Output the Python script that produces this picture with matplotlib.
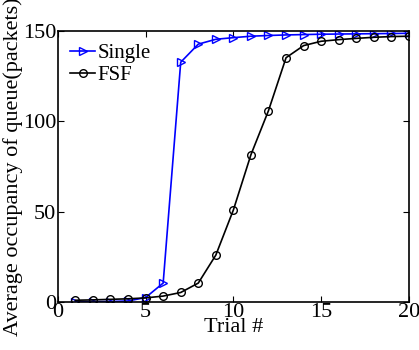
import matplotlib
matplotlib.use('Agg')
import matplotlib.pyplot as plt

plt.rcParams['font.family'] = ['Liberation Serif', 'DejaVu Serif']
plt.rcParams['font.size'] = 16

# Average queue occupancy per trial
trials = list(range(1, 21))
single = [0.2, 0.2, 0.3, 0.6, 2.5, 10.5, 132.8, 142.8, 145.5, 146.4,
          147.2, 147.6, 147.9, 148.1, 148.3, 148.4, 148.5, 148.6, 148.7, 148.8]
fsf = [1.0, 1.2, 1.5, 1.8, 2.3, 3.3, 5.3, 10.5, 26.0, 51.0,
       81.6, 106.0, 135.3, 142.0, 144.4, 145.3, 146.0, 146.6, 147.0, 147.2]

fig = plt.figure(figsize=(4.19, 3.5), dpi=100)
ax = fig.add_axes([0.138, 0.137, 0.838, 0.774])

ax.plot(trials, single, color='blue', marker='>', markerfacecolor='none',
        markeredgecolor='blue', markersize=5.5, linewidth=1.2, label='Single')
ax.plot(trials, fsf, color='black', marker='o', markerfacecolor='none',
        markeredgecolor='black', markersize=5.5, linewidth=1.2, label='FSF')

ax.set_xlim(0, 20)
ax.set_ylim(0, 150)
ax.set_xticks([0, 5, 10, 15, 20])
ax.set_yticks([0, 50, 100, 150])
ax.tick_params(direction='in', top=True, right=True, length=4, pad=1)
for s in ax.spines.values():
    s.set_linewidth(1.2)

ax.set_xlabel('Trial #', labelpad=-3)
ax.set_ylabel('Average occupancy of queue(packets)', labelpad=0)

ax.legend(loc='upper left', frameon=False, handlelength=1.2, handletextpad=0.1,
          borderaxespad=0.2, labelspacing=0.1, fontsize=15)

fig.savefig('out.png', dpi=100)
